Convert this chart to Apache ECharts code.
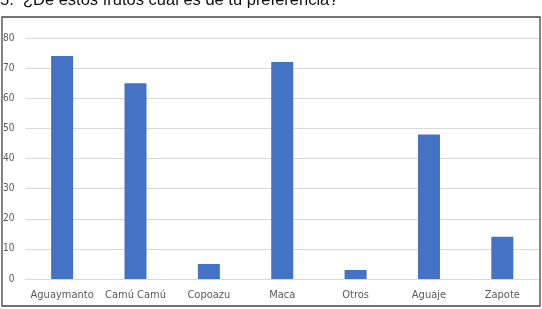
<!DOCTYPE html>
<html><head><meta charset="utf-8">
<script src="https://cdn.jsdelivr.net/npm/echarts@6/dist/echarts.min.js"></script>
<style>html,body{margin:0;padding:0;background:#fff;}#c{width:542px;height:309px;}</style>
</head><body><div id="c"></div>
<script>
const categories = ['Aguaymanto', 'Camú Camú', 'Copoazu', 'Maca', 'Otros', 'Aguaje', 'Zapote'];
const values = [74, 65, 5, 72, 3, 48, 14];
const yTicks = [0, 10, 20, 30, 40, 50, 60, 70, 80];
const titleText = '5.  ¿De estos frutos cuál es de tu preferencia?';

const chart = echarts.init(document.getElementById('c'));
chart.setOption({
  animation: false,
  backgroundColor: '#fff',
  graphic: [
    {type: 'rect', shape: {x: 2, y: 17, width: 538, height: 289}, style: {fill: 'none', stroke: '#444', lineWidth: 1.3}, z: 10},
    {type: 'text', left: 0, top: -8, style: {text: titleText, font: '16.5px "Liberation Sans", Arial, sans-serif', fill: '#111'}}
  ],
  grid: {left: 23, right: 3, top: 38, bottom: 30},
  xAxis: {
    type: 'category', data: categories,
    axisLine: {show: true, lineStyle: {color: '#d9d9d9', width: 1}},
    axisTick: {show: false},
    axisLabel: {interval: 0, color: '#595959', fontSize: 11, fontFamily: '"DejaVu Sans Condensed", "Liberation Sans Narrow", sans-serif', margin: 11}
  },
  yAxis: {
    type: 'value', min: yTicks[0], max: yTicks[yTicks.length - 1], interval: 10,
    axisLine: {show: false}, axisTick: {show: false},
    splitLine: {lineStyle: {color: '#d9d9d9', width: 1}},
    axisLabel: {color: '#595959', fontSize: 10, fontFamily: '"DejaVu Sans Condensed", sans-serif', margin: 11}
  },
  series: [{
    type: 'bar', data: values, barWidth: 22,
    itemStyle: {color: '#4472c4'}
  }]
});
</script></body></html>
